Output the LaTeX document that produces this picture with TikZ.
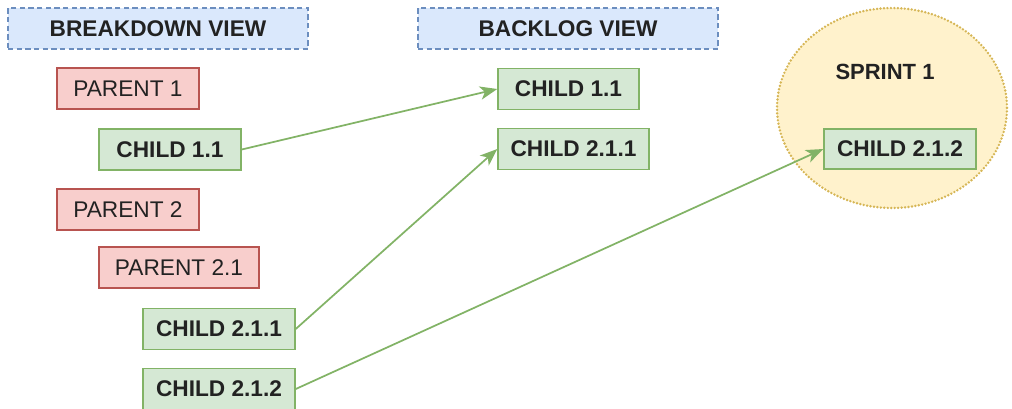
\documentclass[tikz,border=0pt]{standalone}
\usepackage{fontspec}
\setmainfont{Liberation Sans}
\usetikzlibrary{arrows.meta}
\definecolor{bluefill}{HTML}{DAE8FC}
\definecolor{bluedraw}{HTML}{6C8EBF}
\definecolor{redfill}{HTML}{F8CECC}
\definecolor{reddraw}{HTML}{B85450}
\definecolor{greenfill}{HTML}{D5E8D4}
\definecolor{greendraw}{HTML}{82B366}
\definecolor{yelfill}{HTML}{FFF2CC}
\definecolor{yeldraw}{HTML}{D6B656}
\definecolor{txt}{HTML}{222222}
\tikzset{
  box/.style={rectangle, inner sep=0pt, line width=1.1pt, text=txt,
    font=\fontsize{17}{20}\selectfont, minimum height=30.75pt},
  viewbox/.style={box, fill=bluefill, draw=bluedraw, dash pattern=on 4pt off 2.5pt,
    minimum width=225pt, font=\fontsize{17}{20}\selectfont\bfseries},
  parentbox/.style={box, fill=redfill, draw=reddraw},
  childbox/.style={box, fill=greenfill, draw=greendraw, font=\fontsize{17}{20}\selectfont\bfseries},
  link/.style={draw=greendraw, line width=1.3pt, -{Stealth[length=13pt,width=10pt,inset=3.5pt]}},
}
\begin{document}
\begin{tikzpicture}[x=0.75pt,y=-0.75pt]
\useasboundingbox (0,0) rectangle (1012,408);
% sprint ellipse
\draw[fill=yelfill, draw=yeldraw, line width=2pt, line cap=round, dash pattern=on 0pt off 2.6pt]
  (892,108) ellipse [x radius=115, y radius=100];
\node[font=\fontsize{16.5}{20}\selectfont\bfseries, text=txt] (sprint) at (885,72) {SPRINT 1};

\node[viewbox] (bview) at (158,28.5) {BREAKDOWN VIEW};
\node[viewbox] (blview) at (568,28.5) {BACKLOG VIEW};

\node[parentbox, minimum width=106.5pt] (p1) at (128,88.5) {PARENT 1};
\node[childbox, minimum width=106.5pt] (c11) at (170,149.5) {CHILD 1.1};
\node[parentbox, minimum width=106.5pt] (p2) at (128,209.5) {PARENT 2};
\node[parentbox, minimum width=120pt] (p21) at (179,267.5) {PARENT 2.1};
\node[childbox, minimum width=114pt] (c211) at (219,329) {CHILD 2.1.1};
\node[childbox, minimum width=114pt] (c212) at (219,389) {CHILD 2.1.2};

\node[childbox, minimum width=105.75pt] (bc11) at (568.5,89) {CHILD 1.1};
\node[childbox, minimum width=113.25pt] (bc211) at (573.5,149) {CHILD 2.1.1};
\node[childbox, minimum width=114pt, minimum height=30pt] (sc212) at (900,149) {CHILD 2.1.2};

\draw[link] (c11.east) -- (bc11.west);
\draw[link] (c211.east) -- (bc211.west);
\draw[link] (c212.east) -- (sc212.west);
\end{tikzpicture}
\end{document}
